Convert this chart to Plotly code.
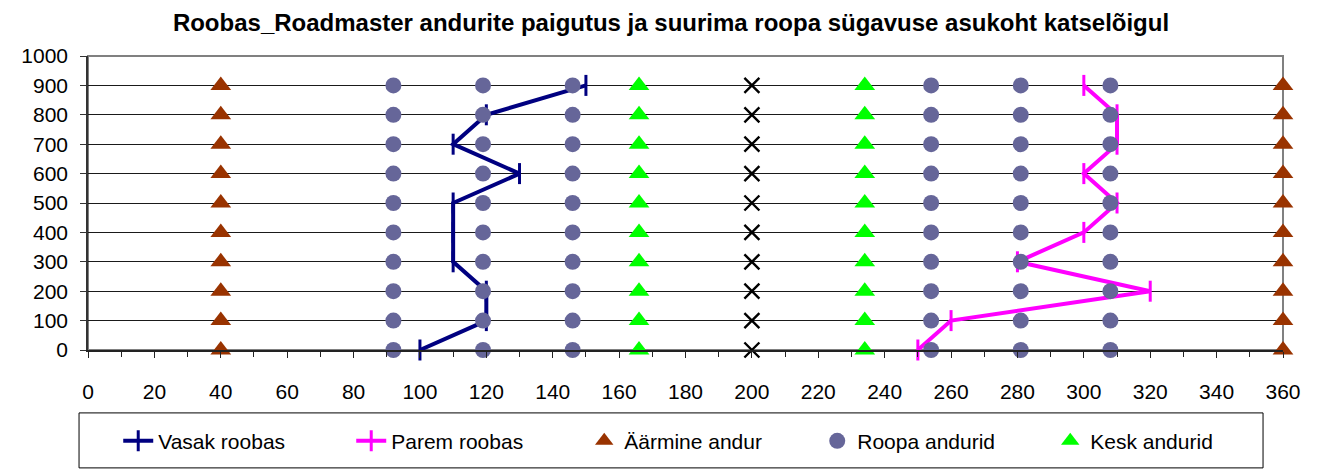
import plotly.graph_objects as go

# andmed
y_levels = [0, 100, 200, 300, 400, 500, 600, 700, 800, 900]
vasak_x = [100, 120, 120, 110, 110, 110, 130, 110, 120, 150]
parem_x = [250, 260, 320, 280, 300, 310, 300, 310, 310, 300]
aarmine_pos = [40, 360]
roopa_pos = [92, 119, 146, 254, 281, 308]
kesk_pos = [166, 234]
telg_pos = [200]

x_ticks = list(range(0, 361, 20))
y_ticks = list(range(0, 1001, 100))

FONT = "Liberation Sans, Arial, sans-serif"


def grid(cols):
    xs = [c for c in cols for _ in y_levels]
    ys = [y for _ in cols for y in y_levels]
    return xs, ys


fig = go.Figure()

fig.add_scatter(x=vasak_x, y=y_levels, name="Vasak roobas", mode="lines+markers",
                line=dict(color="#000080", width=4),
                marker=dict(symbol="line-ns", size=15, line=dict(color="#000080", width=3)),
                cliponaxis=False)
fig.add_scatter(x=parem_x, y=y_levels, name="Parem roobas", mode="lines+markers",
                line=dict(color="#FF00FF", width=4),
                marker=dict(symbol="line-ns", size=15, line=dict(color="#FF00FF", width=3)),
                cliponaxis=False)

ax, ay = grid(aarmine_pos)
fig.add_scatter(x=ax, y=ay, name="Äärmine andur", mode="markers",
                marker=dict(symbol="triangle-up", size=18, color="#993300"),
                cliponaxis=False)
rx, ry = grid(roopa_pos)
fig.add_scatter(x=rx, y=ry, name="Roopa andurid", mode="markers",
                marker=dict(symbol="circle", size=16, color="#666699"),
                cliponaxis=False)
kx, ky = grid(kesk_pos)
fig.add_scatter(x=kx, y=ky, name="Kesk andurid", mode="markers",
                marker=dict(symbol="triangle-up", size=18, color="#00FF00"),
                cliponaxis=False)
tx, ty = grid(telg_pos)
fig.add_scatter(x=tx, y=ty, name="telg", mode="markers", showlegend=False,
                marker=dict(symbol="x-thin", size=15, line=dict(color="#000000", width=2.4)),
                cliponaxis=False)

fig.update_layout(
    width=1326, height=465,
    margin=dict(l=80, r=51, t=48, b=123),
    paper_bgcolor="white", plot_bgcolor="white",
    font=dict(family=FONT, size=21, color="black"),
    title=dict(text="<b>Roobas_Roadmaster andurite paigutus ja suurima roopa sügavuse asukoht katselõigul</b>",
               x=0.5, xanchor="center", y=0.968, yanchor="middle",
               font=dict(family=FONT, size=24, color="black")),
    showlegend=True,
    legend=dict(orientation="h", x=0.0253, xanchor="left", y=-0.31, yanchor="middle",
                font=dict(family=FONT, size=21), entrywidth=188, entrywidthmode="pixels",
                bgcolor="rgba(0,0,0,0)", borderwidth=0),
    shapes=[
        dict(type="rect", xref="x domain", yref="y domain", x0=0, x1=1, y0=0, y1=1,
             line=dict(color="#808080", width=2), layer="below"),
        dict(type="rect", xref="paper", yref="paper", x0=-0.0075, x1=0.9833, y0=-0.401, y1=-0.214,
             line=dict(color="#000000", width=1)),
    ],
)

fig.update_xaxes(range=[0, 360], tickvals=x_ticks, showgrid=False, zeroline=False,
                 showline=True, linecolor="#222222", linewidth=1.5,
                 ticks="outside", ticklen=6, tickcolor="#222222",
                 minor=dict(dtick=10, ticks="outside", ticklen=5, tickcolor="#222222"),
                 ticklabelstandoff=16, tickfont=dict(size=21))
fig.update_yaxes(range=[0, 1000], tickvals=y_ticks, showgrid=True, gridcolor="#1a1a1a", gridwidth=1,
                 zeroline=False, showline=True, linecolor="#333333", linewidth=1.5,
                 ticks="outside", ticklen=6, tickcolor="#333333",
                 ticklabelstandoff=8, tickfont=dict(size=21))

fig.write_html("out.html")
